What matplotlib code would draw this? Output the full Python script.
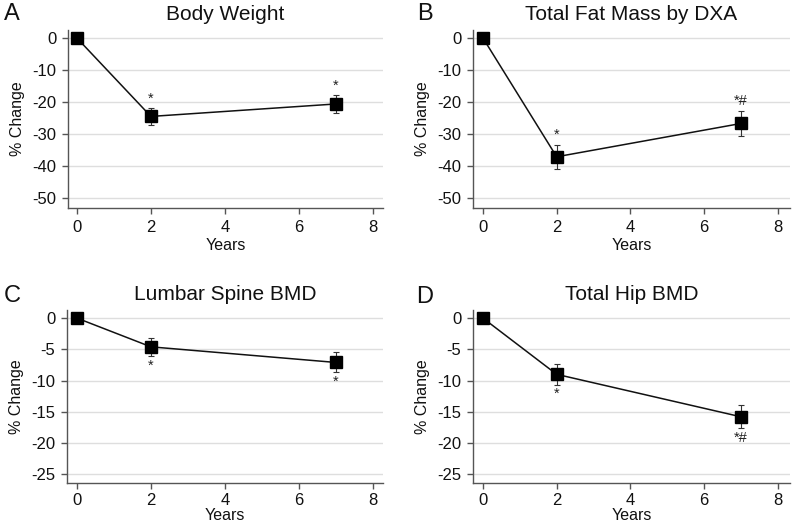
import matplotlib.pyplot as plt

plt.rcParams['font.family'] = ['Liberation Sans', 'DejaVu Sans']
plt.rcParams['axes.unicode_minus'] = False

years = [0, 2, 7]

titles = ['Body Weight', 'Total Fat Mass by DXA', 'Lumbar Spine BMD', 'Total Hip BMD']
letters = ['A', 'B', 'C', 'D']

weight = [0, -24.5, -20.6]
weight_err = [0, 2.6, 2.7]
fat = [0, -37.1, -26.7]
fat_err = [0, 3.8, 4.0]
spine = [0, -4.6, -7.1]
spine_err = [0, 1.45, 1.6]
hip = [0, -9.0, -15.8]
hip_err = [0, 1.65, 1.85]

# significance marks: (label, above the point?)
weight_sig = [('', True), ('*', True), ('*', True)]
fat_sig = [('', True), ('*', True), ('*#', True)]
spine_sig = [('', False), ('*', False), ('*', False)]
hip_sig = [('', False), ('*', False), ('*#', False)]

panels = [
    (weight, weight_err, weight_sig, [0, -10, -20, -30, -40, -50], (-53.1, 2.5)),
    (fat, fat_err, fat_sig, [0, -10, -20, -30, -40, -50], (-53.1, 2.5)),
    (spine, spine_err, spine_sig, [0, -5, -10, -15, -20, -25], (-26.4, 1.3)),
    (hip, hip_err, hip_sig, [0, -5, -10, -15, -20, -25], (-26.4, 1.3)),
]

W, H = 793, 530
# axes boxes in pixels: left, top, right, bottom
boxes = [(68, 30, 383, 208), (473, 30, 790, 208),
         (67, 310, 383, 483), (473, 310, 790, 483)]
xlims = [(-0.24, 8.27), (-0.27, 8.33), (-0.27, 8.27), (-0.27, 8.33)]
letter_pos = [(4, 14), (417, 14), (4, 296), (416, 297)]

fig = plt.figure(figsize=(W / 100, H / 100), dpi=100)

for i, (vals, errs, sig, yt, ylim) in enumerate(panels):
    l, t, r, b = boxes[i]
    ax = fig.add_axes([l / W, 1 - b / H, (r - l) / W, (b - t) / H])
    ax.set_xlim(*xlims[i])
    ax.set_ylim(*ylim)
    ax.set_yticks(yt)
    ax.set_xticks([0, 2, 4, 6, 8])
    ax.grid(axis='y', color='#dedede', lw=1.0)
    ax.set_axisbelow(True)
    for s in ['top', 'right']:
        ax.spines[s].set_visible(False)
    for s in ['left', 'bottom']:
        ax.spines[s].set_color('#555555')
        ax.spines[s].set_linewidth(1.0)
    ax.tick_params(direction='out', length=4.5, width=1.0, color='#555555',
                   labelsize=12, labelcolor='#111111', pad=4)
    if i >= 2:
        ax.tick_params(axis='x', pad=3)
    ax.errorbar(years, vals, yerr=errs, fmt='none', ecolor='#333333',
                elinewidth=0.8, capsize=2.5, capthick=0.8, zorder=2)
    ax.plot(years, vals, color='#111111', lw=1.1, marker='s', ms=8.5,
            mfc='black', mec='black', zorder=3)
    span = ylim[1] - ylim[0]
    for x, v, e, (txt, above) in zip(years, vals, errs, sig):
        if not txt:
            continue
        if above:
            ax.text(x, v + e + 0.015 * span, txt, ha='center', va='bottom',
                    fontsize=10.5, color='#222222')
        else:
            ax.text(x, v - e - 0.015 * span, txt, ha='center', va='top',
                    fontsize=10.5, color='#222222')
    ax.set_ylabel('% Change', fontsize=11.5, color='#111111', labelpad=5)
    ax.set_xlabel('Years', fontsize=11.5, color='#111111',
                  labelpad=2 if i < 2 else 0)
    ax.set_title(titles[i], fontsize=15, color='#111111', pad=7)
    lx, ly = letter_pos[i]
    fig.text(lx / W, 1 - ly / H, letters[i], fontsize=17, color='#111111',
             ha='left', va='center')

fig.savefig('out.png', dpi=100)
